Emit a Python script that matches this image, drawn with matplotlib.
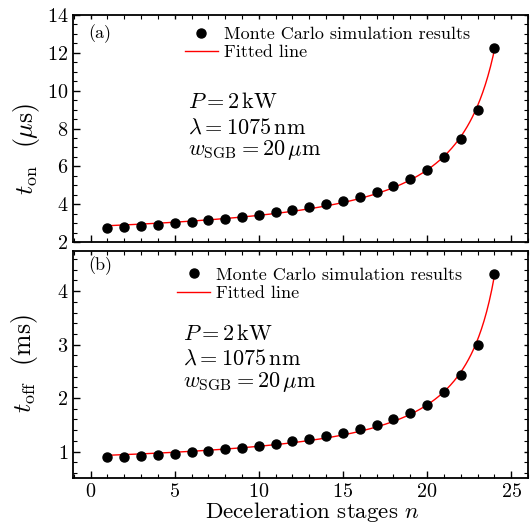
import numpy as np
import matplotlib
matplotlib.use("Agg")
import matplotlib.pyplot as plt
from matplotlib.ticker import MultipleLocator
from matplotlib.lines import Line2D

plt.rcParams['font.family'] = ['cmr10', 'DejaVu Serif']
plt.rcParams['mathtext.fontset'] = 'cm'
plt.rcParams['axes.formatter.use_mathtext'] = True

# data
n = np.arange(1, 25)
t_on = [2.73, 2.79, 2.86, 2.91, 2.98, 3.05, 3.16, 3.24, 3.32, 3.44, 3.58, 3.70,
        3.84, 4.02, 4.19, 4.40, 4.66, 4.98, 5.33, 5.82, 6.47, 7.44, 8.98, 12.26]
t_off = [0.89, 0.90, 0.92, 0.94, 0.96, 0.99, 1.01, 1.04, 1.07, 1.11, 1.14, 1.19,
         1.24, 1.30, 1.35, 1.42, 1.50, 1.60, 1.73, 1.88, 2.11, 2.44, 3.00, 4.32]
params = [r'$P = 2\,\mathrm{kW}$', r'$\lambda = 1075\,\mathrm{nm}$',
          r'$w_{\rm SGB} = 20\,\mu\mathrm{m}$']


def fit_curve(x, y, xx):
    # least squares fit of y = a + b/(c - x), c found by grid search
    x = np.asarray(x, float)
    y = np.asarray(y, float)
    best = None
    for c in np.linspace(x.max() + 0.2, x.max() + 10, 500):
        A = np.column_stack([np.ones_like(x), 1.0 / (c - x)])
        coef, res, _, _ = np.linalg.lstsq(A, y, rcond=None)
        err = np.sum((A @ coef - y) ** 2)
        if best is None or err < best[0]:
            best = (err, c, coef)
    _, c, coef = best
    return coef[0] + coef[1] / (c - xx)


fig = plt.figure(figsize=(5.3, 5.25), dpi=100)
ax1 = fig.add_axes([0.1377, 0.539, 0.8585, 0.4324])
ax2 = fig.add_axes([0.1377, 0.0889, 0.8585, 0.433])

nn = np.linspace(1, 24, 300)
setups = [
    (ax1, t_on, (2, 14), 2, 0.5, r'$t_{\rm on}$  $(\mu\mathrm{s})$', '(a)', (-0.068, 0.41),
     (0.246, 0.95), (0.253, [0.589, 0.479, 0.383]), (0.033, 0.92)),
    (ax2, t_off, (0.5, 4.75), 1, 0.2, r'$t_{\rm off}$  (ms)', '(b)', (-0.072, 0.503),
     (0.229, 0.93), (0.242, [0.608, 0.498, 0.403]), (0.033, 0.934)),
]

for ax, y, ylim, maj, mnr, ylab, tag, ylabpos, legpos, txtpos, tagpos in setups:
    ax.plot(nn, fit_curve(n, y, nn), color='red', lw=1.0, zorder=2)
    ax.plot(n, y, 'o', color='black', ms=6.5, zorder=3)
    ax.set_xlim(-1.05, 26)
    ax.set_ylim(*ylim)
    ax.xaxis.set_major_locator(MultipleLocator(5))
    ax.xaxis.set_minor_locator(MultipleLocator(1))
    ax.yaxis.set_major_locator(MultipleLocator(maj))
    ax.yaxis.set_minor_locator(MultipleLocator(mnr))
    ax.tick_params(which='both', direction='in', top=True, right=True, labelsize=14.5)
    ax.tick_params(which='major', length=5, width=1.0)
    ax.tick_params(which='minor', length=2.8, width=0.8)
    for t in ax.xaxis.get_major_ticks():
        t.tick2line.set_markersize(2.8)
    for t in ax.yaxis.get_major_ticks():
        t.tick2line.set_markersize(2.8)
    for s in ax.spines.values():
        s.set_linewidth(1.3)
    ax.set_ylabel(ylab, fontsize=18.5)
    ax.yaxis.set_label_coords(*ylabpos)
    ax.text(tagpos[0], tagpos[1], tag, transform=ax.transAxes, fontsize=13, va='center')
    for s, yy in zip(params, txtpos[1]):
        ax.text(txtpos[0], yy, s, transform=ax.transAxes, fontsize=16, va='baseline')
    handles = [Line2D([], [], ls='none', marker='o', color='black', ms=6.5),
               Line2D([], [], color='red', lw=1.0)]
    ax.legend(handles, ['Monte Carlo simulation results', 'Fitted line'],
              loc='upper left', bbox_to_anchor=legpos, frameon=False, fontsize=13,
              borderpad=0, borderaxespad=0, handlelength=1.83, handletextpad=0.33,
              labelspacing=0.15)

ax1.tick_params(labelbottom=False)
ax2.set_xlabel(r'Deceleration stages $n$', fontsize=16.5)
ax2.xaxis.set_label_coords(0.526, -0.097)

fig.savefig('out.png', dpi=100)
